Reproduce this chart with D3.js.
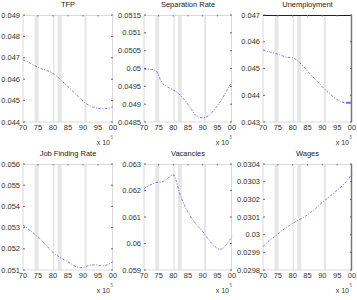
<!DOCTYPE html>
<html><head><meta charset="utf-8">
<script src="https://cdn.jsdelivr.net/npm/d3@7"></script>
<style>body{margin:0;background:#fff}svg{display:block}text{font-family:"Liberation Sans",Arial,sans-serif}</style>
</head><body><svg id="c" width="357" height="300"></svg>
<script>
const years = [1970,1972,1974,1976,1978,1980,1982,1984,1986,1988,1990,1992,1994,1996,1998,2000];
const vacYears = [1970,1972,1974,1976,1978,1980,1981,1982,1984,1986,1988,1990,1992,1994,1996,1998,2000];
const tfp = [0.04690,0.04678,0.04663,0.04650,0.04640,0.04627,0.04605,0.04578,0.04552,0.04525,0.04497,0.04478,0.04467,0.04462,0.04463,0.04472];
const separation = [0.04998,0.04998,0.04994,0.04962,0.04948,0.04940,0.04928,0.04910,0.04888,0.04866,0.04862,0.04868,0.04885,0.04907,0.04935,0.04963];
const unemployment = [0.04569,0.04563,0.04557,0.04550,0.04542,0.04540,0.04526,0.04503,0.04478,0.04455,0.04432,0.04410,0.04392,0.04377,0.04372,0.04372];
const jobFinding = [0.05312,0.05290,0.05268,0.05243,0.05212,0.05183,0.05162,0.05146,0.05130,0.05114,0.05112,0.05122,0.05124,0.05120,0.05124,0.05140];
const vacancies = [0.06208,0.06220,0.06230,0.06232,0.06245,0.06260,0.06235,0.06195,0.06140,0.06100,0.06070,0.06045,0.06015,0.05990,0.05978,0.05995,0.06026];
const wages = [0.029932,0.029965,0.029990,0.030018,0.030042,0.030064,0.030083,0.030102,0.030125,0.030152,0.030183,0.030210,0.030238,0.030265,0.030300,0.030342];
const recessions = [[1973.9,1975.2],[1980.0,1980.5],[1981.55,1982.9],[1990.5,1991.2]];
const xTicks = [1970,1975,1980,1985,1990,1995,2000];
const xTickLabels = ["70","75","80","85","90","95","00"];
const titles = ["TFP","Separation Rate","Unemployment","Job Finding Rate","Vacancies","Wages"];
const yTicks = [
  [0.044,0.045,0.046,0.047,0.048,0.049],
  [0.0485,0.049,0.0495,0.05,0.0505,0.051,0.0515],
  [0.043,0.044,0.045,0.046,0.047],
  [0.051,0.052,0.053,0.054,0.055,0.056],
  [0.059,0.06,0.061,0.062,0.063],
  [0.0298,0.0299,0.03,0.0301,0.0302,0.0303,0.0304]
];
const yTickLabels = [
  ["0.044","0.045","0.046","0.047","0.048","0.049"],
  ["0.0485","0.049","0.0495","0.05","0.0505","0.051","0.0515"],
  ["0.043","0.044","0.045","0.046","0.047"],
  ["0.051","0.052","0.053","0.054","0.055","0.056"],
  ["0.059","0.06","0.061","0.062","0.063"],
  ["0.0298","0.0299","0.03","0.0301","0.0302","0.0303","0.0304"]
];
const seriesX = [years,years,years,years,vacYears,years];
const seriesY = [tfp,separation,unemployment,jobFinding,vacancies,wages];

const svg = d3.select("#c");
const colL = [23,144,263], colR = [113,232,352];
const rowT = [15,164], rowB = [122,270];

for (let i=0;i<6;i++){
  const c=i%3, r=Math.floor(i/3);
  const x = d3.scaleLinear().domain([1970,2000]).range([colL[c],colR[c]]);
  const yt = yTicks[i];
  const y = d3.scaleLinear().domain([yt[0],yt[yt.length-1]]).range([rowB[r],rowT[r]]);
  const g = svg.append("g");
  g.selectAll("rect.rec").data(recessions).join("rect")
    .attr("x",d=>x(d[0])).attr("width",d=>x(d[1])-x(d[0]))
    .attr("y",rowT[r]).attr("height",rowB[r]-rowT[r]).attr("fill","#e6e6e6");
  const boxCol = "#dadada";
  const tcol = i===2 ? "#222" : boxCol;
  const rcol = (i===2||i===5) ? "#777" : boxCol;
  g.append("line").attr("x1",colL[c]).attr("x2",colL[c]).attr("y1",rowT[r]).attr("y2",rowB[r]).attr("stroke",boxCol);
  g.append("line").attr("x1",colL[c]).attr("x2",colR[c]).attr("y1",rowB[r]).attr("y2",rowB[r]).attr("stroke",boxCol);
  g.append("line").attr("x1",colL[c]).attr("x2",colR[c]).attr("y1",rowT[r]+0.5).attr("y2",rowT[r]+0.5).attr("stroke",tcol);
  g.append("line").attr("x1",colR[c]-0.5).attr("x2",colR[c]-0.5).attr("y1",rowT[r]).attr("y2",rowB[r]).attr("stroke",rcol).attr("stroke-width",(i===2||i===5)?1.5:1);
  g.selectAll("line.yl").data(yt).join("line").attr("x1",colL[c]).attr("x2",colL[c]+2).attr("y1",d=>y(d)).attr("y2",d=>y(d)).attr("stroke","#666");
  g.selectAll("line.yr").data(yt).join("line").attr("x1",colR[c]-2).attr("x2",colR[c]).attr("y1",d=>y(d)).attr("y2",d=>y(d)).attr("stroke","#666");
  g.selectAll("line.xt").data(xTicks.slice(1,-1)).join("line").attr("x1",d=>x(d)).attr("x2",d=>x(d)).attr("y1",rowT[r]).attr("y2",rowT[r]+1.5).attr("stroke","#777");
  g.selectAll("text.yl").data(yt).join("text").attr("x",colL[c]-3).attr("y",d=>y(d)+2.6)
    .attr("text-anchor","end").attr("font-size",7.5).attr("fill","#333").text((d,k)=>yTickLabels[i][k]);
  g.selectAll("text.xl").data(xTicks).join("text").attr("x",d=>x(d)).attr("y",rowB[r]+8)
    .attr("text-anchor","middle").attr("font-size",7.5).attr("fill","#333").text((d,k)=>xTickLabels[k]);
  g.append("text").attr("x",colR[c]-3).attr("y",rowB[r]+23).attr("text-anchor","end").attr("font-size",7).attr("fill","#333").text("x 10");
  g.append("text").attr("x",colR[c]-2.5).attr("y",rowB[r]+17).attr("font-size",4.5).attr("fill","#777").text("5");
  g.append("text").attr("x",(colL[c]+colR[c])/2).attr("y",rowT[r]-8).attr("text-anchor","middle").attr("font-size",7.5).attr("fill","#222").text(titles[i]);
  const pts = seriesX[i].map((yr,k)=>[yr,seriesY[i][k]]);
  const line = d3.line().x(d=>x(d[0])).y(d=>y(d[1])).curve(d3.curveMonotoneX);
  g.append("path").attr("d",line(pts)).attr("fill","none").attr("stroke","#6262e4").attr("stroke-width",0.85).attr("stroke-dasharray","2.5,1.5,1,1.5");
  if (i===2){
    g.append("path").attr("d",line(pts.filter(d=>d[0]>=1998))).attr("fill","none").attr("stroke","#7070ea").attr("stroke-width",2);
  }
}
</script></body></html>
